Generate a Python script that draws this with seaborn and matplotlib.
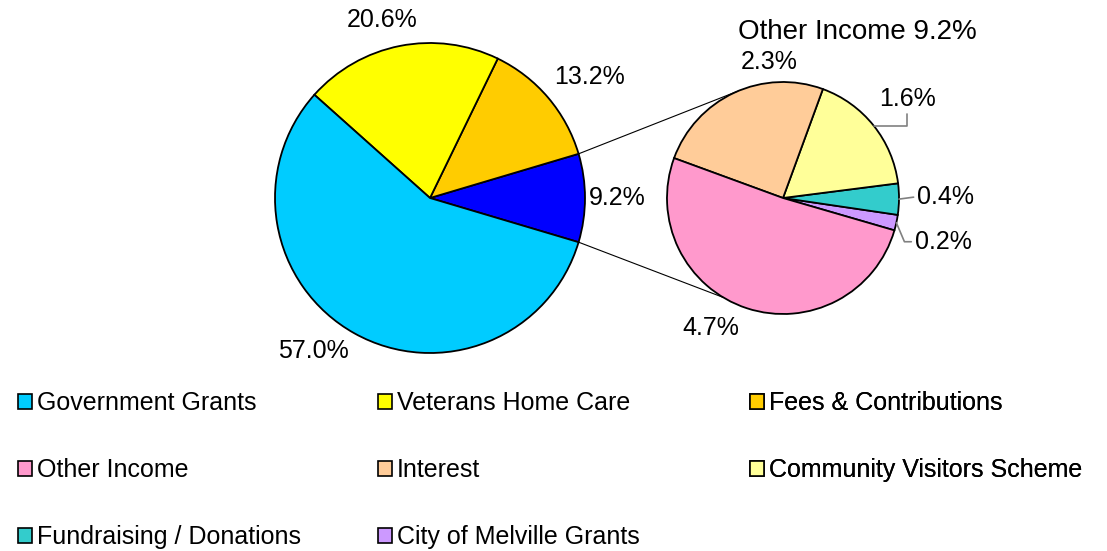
"""
Income breakdown - pie of pie (Other Income split out)
"""
import numpy as np
import matplotlib
matplotlib.use('Agg')
import matplotlib.pyplot as plt
import seaborn as sns
from matplotlib.patches import Patch

# Main pie
main_labels = ['Other Income', 'Fees & Contributions', 'Veterans Home Care', 'Government Grants']
main_values = [9.2, 13.2, 20.6, 57.0]
main_colors = ['#0000FF', '#FFCC00', '#FFFF00', '#00CCFF']

# Breakdown of Other Income
sub_labels = ['City of Melville Grants', 'Fundraising / Donations', 'Community Visitors Scheme',
              'Interest', 'Other Income']
sub_values = [0.2, 0.4, 1.6, 2.3, 4.7]
sub_colors = ['#CC99FF', '#33CCCC', '#FFFF99', '#FFCC99', '#FF99CC']

# Legend layout (row-major like the original)
legend_cols = [
    ['Government Grants', 'Other Income', 'Fundraising / Donations'],
    ['Veterans Home Care', 'Interest', 'City of Melville Grants'],
    ['Fees & Contributions', 'Community Visitors Scheme'],
]
legend_colors = {
    'Government Grants': '#00CCFF', 'Veterans Home Care': '#FFFF00',
    'Fees & Contributions': '#FFCC00', 'Other Income': '#FF99CC',
    'Interest': '#FFCC99', 'Community Visitors Scheme': '#FFFF99',
    'Fundraising / Donations': '#33CCCC', 'City of Melville Grants': '#CC99FF',
}

sns.set_theme(style='white', rc={'text.color': 'black'})
plt.rcParams['font.family'] = ['Liberation Sans', 'DejaVu Sans']

W, H = 1107, 551
fig = plt.figure(figsize=(W / 100, H / 100), dpi=100)
ax = fig.add_axes([0, 0, 1, 1])
ax.set_xlim(0, W)
ax.set_ylim(0, H)
ax.set_aspect('equal')
ax.axis('off')

FS = 18
wedge_kw = dict(edgecolor='black', linewidth=1.3)

main_c, main_r = (430, 353), 155
sub_c, sub_r = (783, 353), 116

mw, _ = ax.pie(main_values, colors=main_colors, startangle=-main_values[0] / sum(main_values) * 180,
               counterclock=True, center=main_c, radius=main_r, wedgeprops=wedge_kw)
sw, _ = ax.pie(sub_values, colors=sub_colors, startangle=-16.2, counterclock=True,
               center=sub_c, radius=sub_r, wedgeprops=wedge_kw)
ax.set_xlim(0, W)
ax.set_ylim(0, H)


def polar(c, r, ang):
    a = np.deg2rad(ang)
    return c[0] + r * np.cos(a), c[1] + r * np.sin(a)


# percentage labels on main pie
main_lab_r = [1.21, 1.29, 1.19, 1.24]
main_lab_da = [0, -3, 4, -8]
for w, v, d, da in zip(mw, main_values, main_lab_r, main_lab_da):
    mid = (w.theta1 + w.theta2) / 2 + da
    x, y = polar(main_c, main_r * d, mid)
    ax.text(x, y, f'{v:.1f}%', ha='center', va='center', fontsize=FS)

# percentage labels on sub pie
sub_lab_r = [1.43, 1.40, 1.37, 1.18, 1.28]
sub_lab_da = [-3, 1, 0, -19, -11]
for i, (w, v, d, da) in enumerate(zip(sw, sub_values, sub_lab_r, sub_lab_da)):
    mid = (w.theta1 + w.theta2) / 2
    x, y = polar(sub_c, sub_r * d, mid + da)
    if v < 2:
        edge = polar(sub_c, sub_r, mid)
        if v == 1.6:
            conn, rel = 'angle,angleA=90,angleB=0,rad=0', (0.5, 0.0)
        elif v == 0.2:
            conn, rel = 'angle,angleA=0,angleB=-67,rad=0', (0.0, 0.5)
        else:
            conn, rel = 'arc3', (0.0, 0.5)
        ax.annotate(f'{v:.1f}%', xy=edge, xytext=(x, y), ha='center', va='center', fontsize=FS,
                    arrowprops=dict(arrowstyle='-', color='#808080', lw=1.2,
                                    connectionstyle=conn, relpos=rel, shrinkA=0, shrinkB=0))
    else:
        ax.text(x, y, f'{v:.1f}%', ha='center', va='center', fontsize=FS)

# connector lines between the two pies
blue = mw[0]
for a_main, a_sub in [(blue.theta2, 113), (blue.theta1, -121)]:
    p0 = polar(main_c, main_r, a_main)
    p1 = polar(sub_c, sub_r, a_sub)
    ax.plot([p0[0], p1[0]], [p0[1], p1[1]], color='black', lw=0.8)

ax.text(857, 519, 'Other Income 9.2%', ha='center', va='center', fontsize=20)

# legend: three columns
col_x = [18, 378, 750]
for cx, names in zip(col_x, legend_cols):
    handles = [Patch(facecolor=legend_colors[n], edgecolor='black', linewidth=1.2, label=n)
               for n in names]
    leg = ax.legend(handles=handles, loc='upper left', bbox_to_anchor=(cx, 160),
                    bbox_transform=ax.transData, frameon=False, fontsize=FS,
                    handlelength=0.56, handleheight=0.56, handletextpad=0.2,
                    labelspacing=1.72, borderpad=0, borderaxespad=0)
    ax.add_artist(leg)

fig.savefig('out.png', dpi=100)
